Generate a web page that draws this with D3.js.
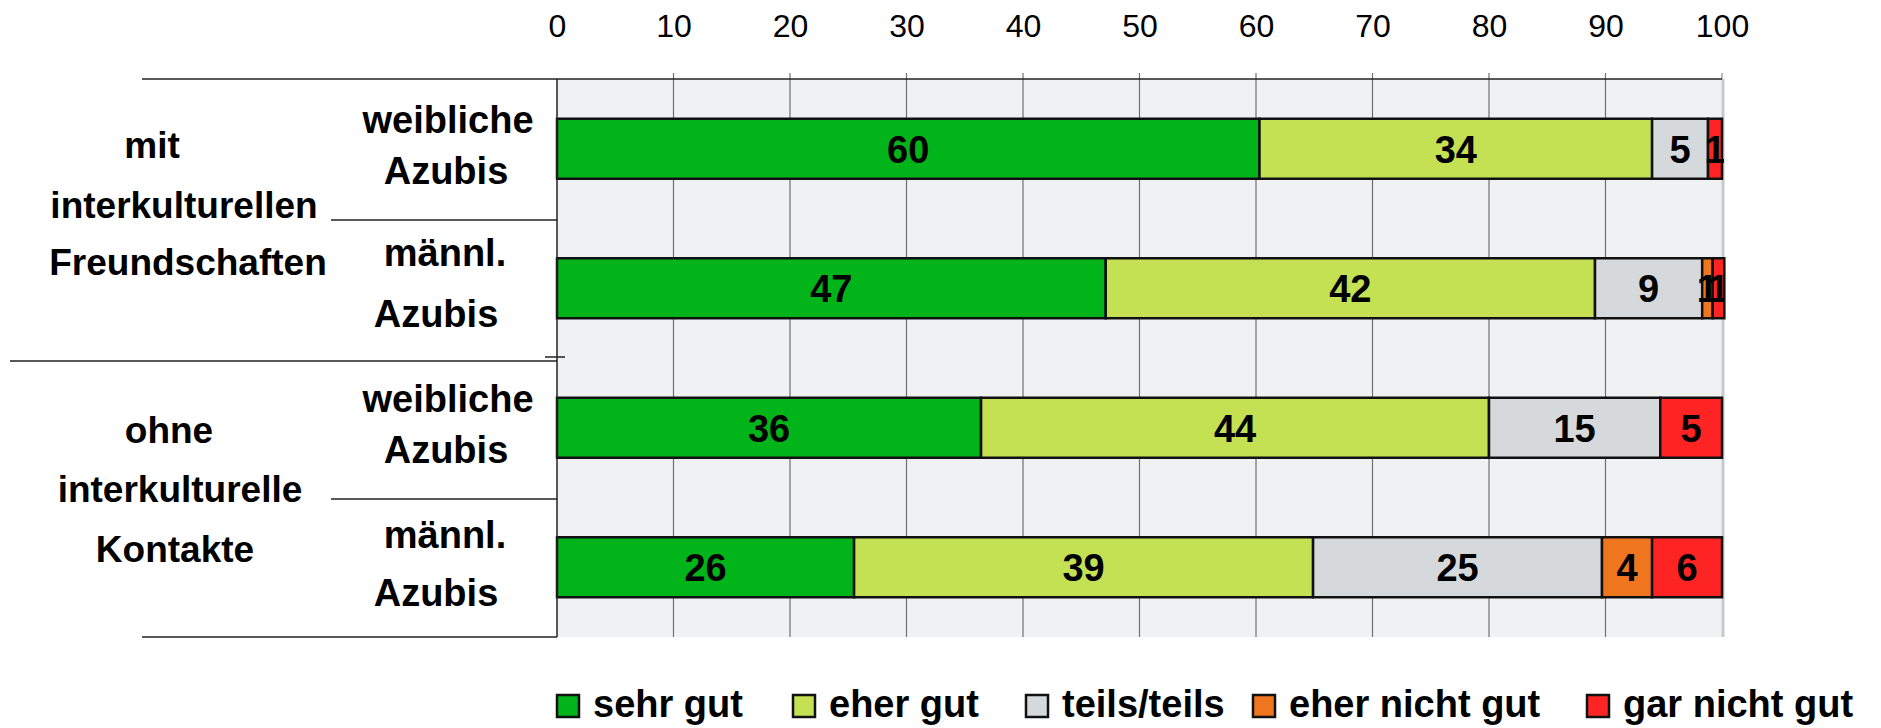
<!DOCTYPE html>
<html>
<head>
<meta charset="utf-8">
<script src="https://cdn.jsdelivr.net/npm/d3@7"></script>
<style>
    body { margin: 0; background: #fff; }
    svg { display: block; font-family: "Liberation Sans", Arial, sans-serif; }
</style>
</head>
<body>
<div id="chart"></div>
<script>
// data (percent, per row)
var rows = ['w_mit', 'm_mit', 'w_ohne', 'm_ohne'];
var rowLines = [['weibliche', 'Azubis'], ['männl.', 'Azubis'], ['weibliche', 'Azubis'], ['männl.', 'Azubis']];
var groupLines = [['mit', 'interkulturellen', 'Freundschaften'], ['ohne', 'interkulturelle', 'Kontakte']];
var categories = ['sehr gut', 'eher gut', 'teils/teils', 'eher nicht gut', 'gar nicht gut'];
var sehrGut = [60.3, 47.1, 36.4, 25.5];
var eherGut = [33.7, 42.0, 43.6, 39.4];
var teilsTeils = [4.8, 9.2, 14.7, 24.8];
var eherNichtGut = [0, 0.9, 0, 4.3];
var garNichtGut = [1.2, 1.0, 5.3, 6.0];
var xTicks = [0, 10, 20, 30, 40, 50, 60, 70, 80, 90, 100];

var colors = ['#00b41a', '#c3e152', '#d6d9db', '#ef761f', '#ff2424'];
var W = 1881, H = 728;
var plotTop = 79, plotBottom = 637, plotLeft = 557, plotRight = 1722;

var table = rows.map(function (r, i) {
    return {
        row: r,
        'sehr gut': sehrGut[i],
        'eher gut': eherGut[i],
        'teils/teils': teilsTeils[i],
        'eher nicht gut': eherNichtGut[i],
        'gar nicht gut': garNichtGut[i]
    };
});

var svg = d3.select('#chart').append('svg')
    .attr('width', W)
    .attr('height', H)
    .attr('viewBox', [0, 0, W, H]);

var x = d3.scaleLinear().domain([0, 100]).range([plotLeft, plotRight]);
var y = d3.scaleBand().domain(rows).range([plotTop, plotBottom])
    .paddingInner(0.57).paddingOuter(0.285);
var color = d3.scaleOrdinal().domain(categories).range(colors);

// plot background
svg.append('rect')
    .attr('x', x(0)).attr('y', plotTop)
    .attr('width', x(100) - x(0)).attr('height', plotBottom - plotTop)
    .attr('fill', '#f0f1f3');

// grid lines (with small ticks above the plot)
svg.append('g').attr('class', 'grid')
    .selectAll('line')
    .data(xTicks.filter(function (d) { return d > 0 && d < 100; }))
    .join('line')
    .attr('x1', function (d) { return x(d); })
    .attr('x2', function (d) { return x(d); })
    .attr('y1', plotTop - 6)
    .attr('y2', plotBottom)
    .attr('stroke', '#707070')
    .attr('stroke-width', 1.2);

// right edge
svg.append('line')
    .attr('x1', x(100) + 1).attr('x2', x(100) + 1)
    .attr('y1', plotTop).attr('y2', plotBottom)
    .attr('stroke', '#c8c9cb').attr('stroke-width', 3);
svg.append('line')
    .attr('x1', x(100)).attr('x2', x(100))
    .attr('y1', plotTop - 6).attr('y2', plotTop)
    .attr('stroke', '#707070');

// top axis labels
var axis = d3.axisTop(x).tickValues(xTicks).tickSize(0).tickPadding(42);
var gAxis = svg.append('g').attr('transform', 'translate(0,' + plotTop + ')').call(axis);
gAxis.select('.domain').remove();
gAxis.selectAll('text')
    .attr('font-size', '32px')
    .attr('font-family', '"Liberation Sans", Arial, sans-serif')
    .attr('fill', '#000');

// bars
var stacked = d3.stack().keys(categories)(table);
svg.append('clipPath').attr('id', 'plotclip')
    .append('rect').attr('x', plotLeft - 2).attr('y', 0).attr('width', plotRight - plotLeft + 4).attr('height', H);

var layer = svg.append('g').selectAll('g')
    .data(stacked)
    .join('g')
    .attr('fill', function (d) { return color(d.key); });

layer.selectAll('rect')
    .data(function (d) { return d.filter(function (s) { return s[1] - s[0] > 0; }); })
    .join('rect')
    .attr('x', function (d) { return x(d[0]); })
    .attr('y', function (d) { return y(d.data.row); })
    .attr('width', function (d) { return x(d[1]) - x(d[0]); })
    .attr('height', y.bandwidth())
    .attr('stroke', '#111')
    .attr('stroke-width', 2.5);

var labels = svg.append('g').attr('clip-path', 'url(#plotclip)');
stacked.forEach(function (s) {
    labels.selectAll(null)
        .data(s.filter(function (d) { return d[1] - d[0] > 0; }))
        .join('text')
        .attr('x', function (d) { return (x(d[0]) + x(d[1])) / 2; })
        .attr('y', function (d) { return y(d.data.row) + y.bandwidth() / 2 + 14; })
        .attr('text-anchor', 'middle')
        .attr('font-size', '38px')
        .attr('font-weight', 'bold')
        .attr('fill', '#000')
        .text(function (d) { return Math.round(d[1] - d[0]); });
});

// frame lines
var lineData = [
    [142, plotTop, plotRight, plotTop],
    [10, 361, plotLeft, 361],
    [545, 357, 565, 357],
    [331, 220, plotLeft, 220],
    [331, 499, plotLeft, 499],
    [142, plotBottom, plotLeft, plotBottom],
    [plotLeft, plotTop, plotLeft, plotBottom]
];
svg.append('g').selectAll('line')
    .data(lineData)
    .join('line')
    .attr('x1', function (d) { return d[0]; })
    .attr('y1', function (d) { return d[1]; })
    .attr('x2', function (d) { return d[2]; })
    .attr('y2', function (d) { return d[3]; })
    .attr('stroke', '#222')
    .attr('stroke-width', 1.5);

// row labels
var rowX = [[448, 446], [445, 436], [448, 446], [445, 436]];
var rowBase = [[133, 184], [266, 327], [412, 463], [548, 606]];
rowLines.forEach(function (lines, i) {
    lines.forEach(function (t, j) {
        svg.append('text')
            .attr('x', rowX[i][j])
            .attr('y', rowBase[i][j])
            .attr('text-anchor', 'middle')
            .attr('font-size', '38px')
            .attr('font-weight', 'bold')
            .text(t);
    });
});

// group labels
var groupX = [[152, 184, 188], [169, 180, 175]];
var groupBase = [[158, 218, 275], [443, 502, 562]];
groupLines.forEach(function (lines, i) {
    lines.forEach(function (t, j) {
        svg.append('text')
            .attr('x', groupX[i][j])
            .attr('y', groupBase[i][j])
            .attr('text-anchor', 'middle')
            .attr('font-size', '37px')
            .attr('font-weight', 'bold')
            .text(t);
    });
});

// legend
var legendX = [556, 792, 1025, 1252, 1586];
var legend = svg.append('g').selectAll('g')
    .data(categories)
    .join('g')
    .attr('transform', function (d, i) { return 'translate(' + legendX[i] + ',694)'; });
legend.append('rect')
    .attr('width', 22).attr('height', 22)
    .attr('x', 1).attr('y', 1)
    .attr('fill', function (d) { return color(d); })
    .attr('stroke', '#111')
    .attr('stroke-width', 2.5);
legend.append('text')
    .attr('x', 37)
    .attr('y', 23)
    .attr('font-size', '38px')
    .attr('font-weight', 'bold')
    .text(function (d) { return d; });
</script>
</body>
</html>
